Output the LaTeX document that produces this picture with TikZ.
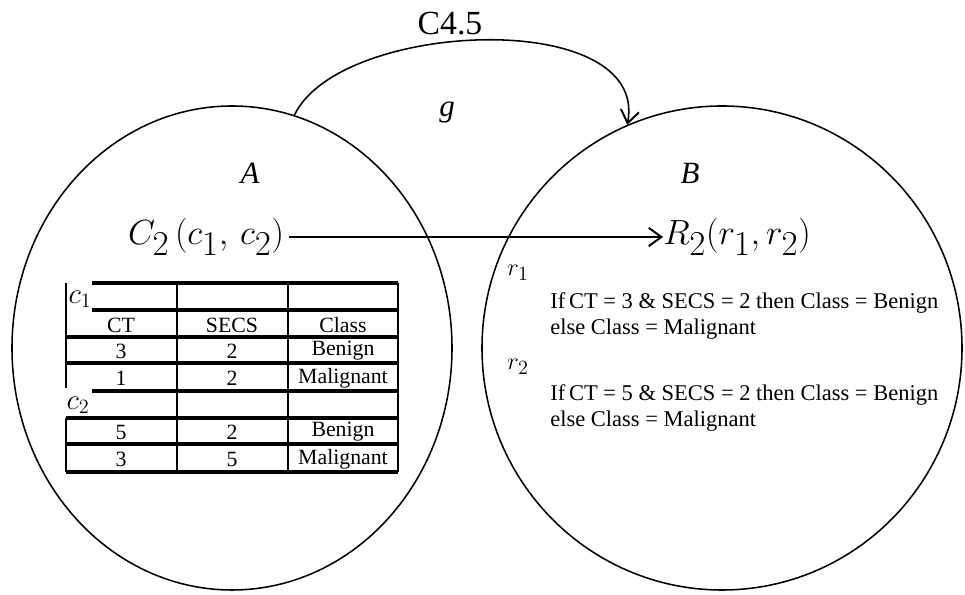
\documentclass[tikz,border=0pt]{standalone}
\usepackage{fontspec}
\setmainfont{Liberation Serif}
\usetikzlibrary{shapes.geometric,arrows.meta}

\begin{document}
\begin{tikzpicture}[x=0.25mm, y=0.25mm,
  setshape/.style={ellipse, draw, line width=1.1pt, minimum height=121mm, inner sep=0pt},
  maptip/.style={-{Straight Barb[length=9pt,width=13pt,line width=1.4pt]}},
  letter/.style={font=\fontsize{22}{24}\selectfont\itshape},
  pairlabel/.style={font=\fontsize{36}{38}\selectfont, inner sep=3pt},
  cell/.style={font=\fontsize{15.5}{17}\selectfont},
  rulebox/.style={font=\fontsize{16}{19}\selectfont, align=left, anchor=west, inner sep=0pt},
  rowline/.style={line width=2.2pt},
  colline/.style={line width=1.5pt}]

\useasboundingbox (0,0) rectangle (965,595);

% ===== The two sets A and B =====
\node[setshape, minimum width=110mm] (setA) at (232,247) {};
\node[setshape, minimum width=120mm] (setB) at (722,247) {};
\node[letter] (nameA) at (250,422) {A};
\node[letter] (nameB) at (690,422) {B};

% ===== Mapping g, learnt by C4.5 =====
\draw[line width=1.1pt, maptip] (setA.75) .. controls +(45,95) and +(22,118) .. (setB.113);
\node[font=\fontsize{24}{26}\selectfont] (algo) at (450,571) {C4.5};
\node[letter] (map) at (447,482) {g};

% ===== Clusters mapped to rules =====
\node[pairlabel] (clusters) at (206,358) {$C_2\,(c_1,\,c_2)$};
\node[pairlabel, inner sep=0pt] (rules) at (737,358) {$R_2(r_1,r_2)$};
\draw[line width=1.8pt, maptip] (clusters) -- (rules);

% ===== Table of the clusters =====
% ----- rules of the table -----
\foreach \y in {258,232,177,151,123}
  \draw[rowline] (66,\y) -- (398,\y);
\foreach \y in {312,285,204}
  \draw[rowline] (92,\y) -- (398,\y);
\foreach \x in {177,288,398}
  \draw[colline] (\x,312) -- (\x,123);
\draw[colline] (66,312) -- (66,207);
\draw[colline] (66,177) -- (66,123);
% ----- cells -----
\foreach \ct/\secs/\cls/\y/\id in {CT/SECS/Class/270/head, 3/2/Benign/244/rowa,
    1/2/Malignant/217/rowb, 5/2/Benign/163/rowc, 3/5/Malignant/136/rowd} {
  \node[cell] (\id-ct) at (121,\y) {\ct};
  \node[cell] (\id-secs) at (232,\y) {\secs};
  \node[cell] (\id-class) at (343,\y) {\cls};
}
\node[font=\fontsize{21}{23}\selectfont] (cone) at (80,296) {$c_1$};
\node[font=\fontsize{21}{23}\selectfont] (ctwo) at (78,190) {$c_2$};

% ===== Rules r1 and r2 =====
\node[font=\fontsize{19}{21}\selectfont] (rone) at (518,322) {$r_1$};
\node[font=\fontsize{19}{21}\selectfont] (rtwo) at (518,228) {$r_2$};
\node[rulebox] (ruleone) at (550,279)
  {If\,CT = 3 \& SECS = 2 then Class = Benign\\else Class = Malignant};
\node[rulebox] (ruletwo) at (550,187)
  {If\,CT = 5 \& SECS = 2 then Class = Benign\\else Class = Malignant};

\end{tikzpicture}
\end{document}
